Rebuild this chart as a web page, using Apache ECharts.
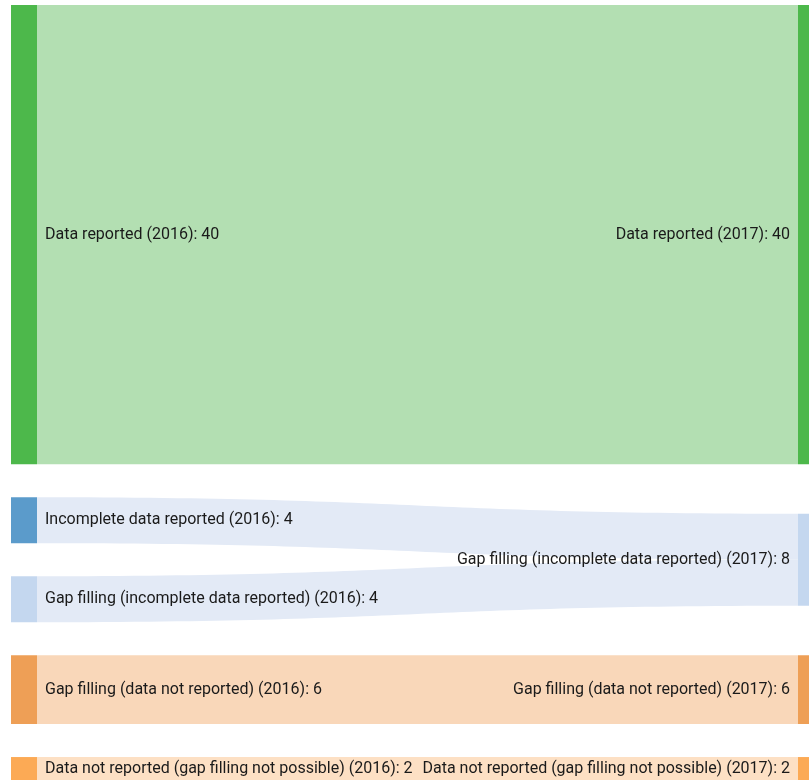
<!DOCTYPE html>
<html>
<head>
<meta charset="utf-8">
<script src="https://cdn.jsdelivr.net/npm/echarts@6/dist/echarts.min.js"></script>
<style>
  html, body { margin: 0; padding: 0; background: #fff; }
  #chart { width: 809px; height: 782px; }
</style>
</head>
<body>
<div id="chart"></div>
<script>
// nodes, in the order they are stacked
const nodeNames = [
  'Data reported (2016)',
  'Incomplete data reported (2016)',
  'Gap filling (incomplete data reported) (2016)',
  'Gap filling (data not reported) (2016)',
  'Data not reported (gap filling not possible) (2016)',
  'Data reported (2017)',
  'Gap filling (incomplete data reported) (2017)',
  'Gap filling (data not reported) (2017)',
  'Data not reported (gap filling not possible) (2017)'
];
const nodeColors = ['#4db84b', '#5b9bcb', '#c4d7ef', '#ee9f56', '#fcaa55',
                    '#4db84b', '#c4d7ef', '#ee9f56', '#fcaa55'];

// flows 2016 -> 2017
const linkSources = [0, 1, 2, 3, 4];
const linkTargets = [5, 6, 6, 7, 8];
const linkValues = [40, 4, 4, 6, 2];
const linkColors = ['#b3dfb2', '#e3eaf6', '#e3eaf6', '#f9d7b9', '#fde0c4'];

const chart = echarts.init(document.getElementById('chart'));

const nodes = nodeNames.map((name, i) => ({
  name: name,
  itemStyle: { color: nodeColors[i], borderWidth: 0 },
  label: { position: i < 5 ? 'right' : 'left' }
}));

const links = linkSources.map((s, i) => ({
  source: nodeNames[s],
  target: nodeNames[linkTargets[i]],
  value: linkValues[i],
  lineStyle: { color: linkColors[i], opacity: 1 }
}));

chart.setOption({
  animation: false,
  series: [{
    type: 'sankey',
    left: 11,
    right: -15,
    top: 5,
    bottom: 2,
    nodeWidth: 26,
    nodeGap: 33,
    nodeAlign: 'justify',
    draggable: false,
    emphasis: { disabled: true },
    data: nodes,
    links: links,
    lineStyle: { curveness: 0.5, opacity: 1 },
    label: {
      color: '#1a1a1a',
      fontFamily: 'Roboto, sans-serif',
      fontSize: 16,
      distance: 8,
      formatter: p => p.name + ': ' + p.value
    }
  }]
});
</script>
</body>
</html>
